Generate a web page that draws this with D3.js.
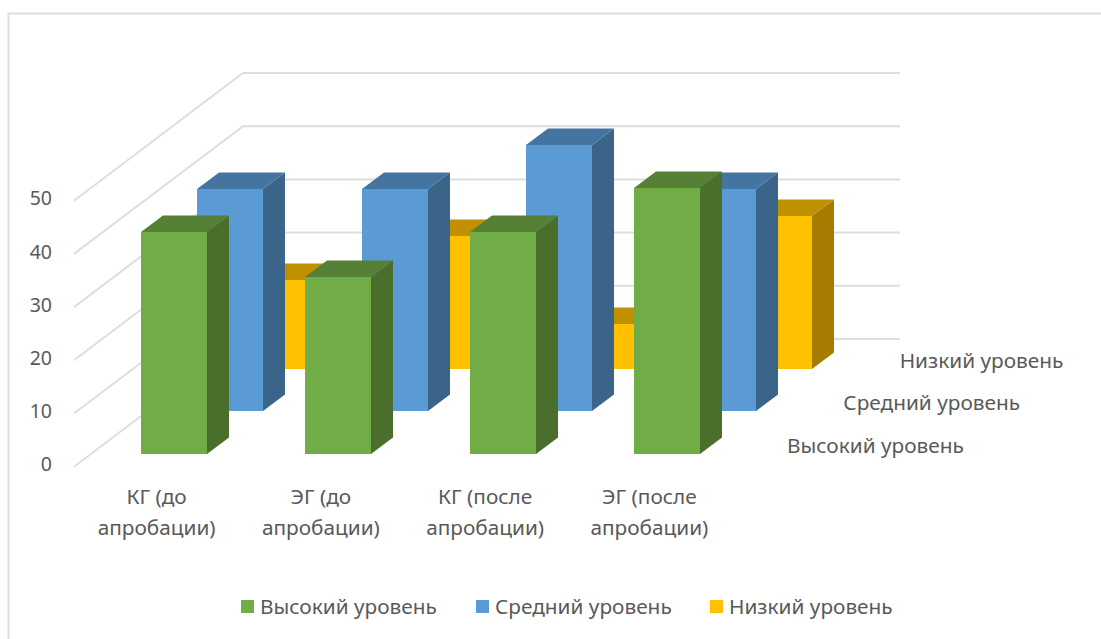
<!DOCTYPE html>
<html><head><meta charset="utf-8">
<script src="https://cdn.jsdelivr.net/npm/d3@7/dist/d3.min.js"></script>
<style>html,body{margin:0;padding:0;background:#fff;overflow:hidden}svg{display:block}text{font-family:"Noto Sans",sans-serif;fill:#595959;font-size:20.8px}</style>
</head><body><svg id="c" width="1101" height="639"></svg>
<script>
const categories = ["КГ (до апробации)", "ЭГ (до апробации)", "КГ (после апробации)", "ЭГ (после апробации)"];
const seriesNames = ["Высокий уровень", "Средний уровень", "Низкий уровень"];
const highValues = [41.7, 33.3, 41.7, 50];
const midValues = [41.7, 41.7, 50, 41.7];
const lowValues = [16.7, 25, 8.3, 28.6];
const yTicks = [0, 10, 20, 30, 40, 50];
const seriesValues = [highValues, midValues, lowValues];
const faceColors = ["#70AD47", "#5B9BD5", "#FFC000"];
const topColors = ["#568035", "#4475A1", "#BF9000"];
const sideColors = ["#4A6E2C", "#3A6488", "#A67C00"];

const svg = d3.select("#c");
const grid = "#DEDEDE";
// chart frame
svg.append("path").attr("d", "M1101,13.5H8.5V639").attr("fill", "none").attr("stroke", grid).attr("stroke-width", 2);

const x = d3.scaleBand().domain(categories).range([74, 731]).paddingInner(0.6).paddingOuter(0.3);
const y = d3.scaleLinear().domain([0, 50]).range([466.7, 200.7]);
const zx = d3.scaleBand().domain(seriesNames).range([0, 169]).paddingInner(0.61).paddingOuter(0.305);
const zy = d3.scaleBand().domain(seriesNames).range([0, 127.7]).paddingInner(0.61).paddingOuter(0.305);
const depthX = zx.range()[1], depthY = zy.range()[1], x0 = x.range()[0], x1 = x.range()[1];

// walls
const g = svg.append("g").attr("fill", "none").attr("stroke", grid).attr("stroke-width", 2);
g.selectAll("path").data(yTicks).join("path")
  .attr("d", t => `M${x0},${y(t)}L${x0 + depthX},${y(t) - depthY}H${x1 + depthX}`);

// bars, back to front
d3.range(seriesNames.length - 1, -1, -1).forEach(si => {
  const name = seriesNames[si], dx = Math.round(zx.bandwidth()), dy = zy.bandwidth();
  const bars = svg.append("g").selectAll("g").data(categories).join("g");
  const X = c => Math.round(x(c) + zx(name) + 0.6), Y = v => Math.round(y(v) - zy(name)), w = Math.round(x.bandwidth());
  const val = (c) => seriesValues[si][categories.indexOf(c)];
  bars.append("path").attr("fill", sideColors[si])
    .attr("d", c => `M${X(c)+w-1},${Y(val(c))}h1l${dx},${-dy}V${Y(0)-dy}l${-dx},${dy}h-1Z`);
  bars.append("path").attr("fill", topColors[si])
    .attr("d", c => `M${X(c)},${Y(val(c))+1}v-1l${dx},${-dy}h${w}l${-dx},${dy}v1Z`);
  bars.append("rect").attr("fill", faceColors[si])
    .attr("x", c => X(c)).attr("y", c => Y(val(c))).attr("width", w)
    .attr("height", c => Y(0) - Y(val(c)));
});

// value axis
const yAxis = d3.axisLeft(y).tickValues(yTicks).tickSize(0).tickPadding(0);
const ya = svg.append("g").attr("transform", "translate(52,-2)").call(yAxis);
ya.select(".domain").remove();
ya.selectAll("text").style("font-family", '"Noto Sans",sans-serif').style("font-size", "19.5px").style("fill", "#595959");

// category labels
const catG = svg.append("g").selectAll("text").data(categories).join("text")
  .attr("text-anchor", "middle")
  .attr("transform", c => `translate(${x(c) + x.bandwidth() / 2 + 0.5},0)`);
catG.selectAll("tspan").data(c => { const i = c.lastIndexOf(" "); return [c.slice(0, i), c.slice(i + 1)]; })
  .join("tspan").attr("x", 0).attr("y", (d, i) => 504 + i * 31).text(d => d);

// depth labels
svg.append("g").selectAll("text").data(seriesNames).join("text")
  .attr("x", n => 787 + zx(n) - zx(seriesNames[0]))
  .attr("y", n => 453 - (zy(n) - zy(seriesNames[0])))
  .text(n => n);

// legend
const legendX = [241, 476, 710];
const lg = svg.append("g").selectAll("g").data(seriesNames).join("g")
  .attr("transform", (n, i) => `translate(${legendX[i]},600)`);
lg.append("rect").attr("width", 13).attr("height", 13).attr("fill", (n, i) => faceColors[i]);
lg.append("text").attr("x", 19).attr("y", 14).text(n => n);
</script></body></html>
